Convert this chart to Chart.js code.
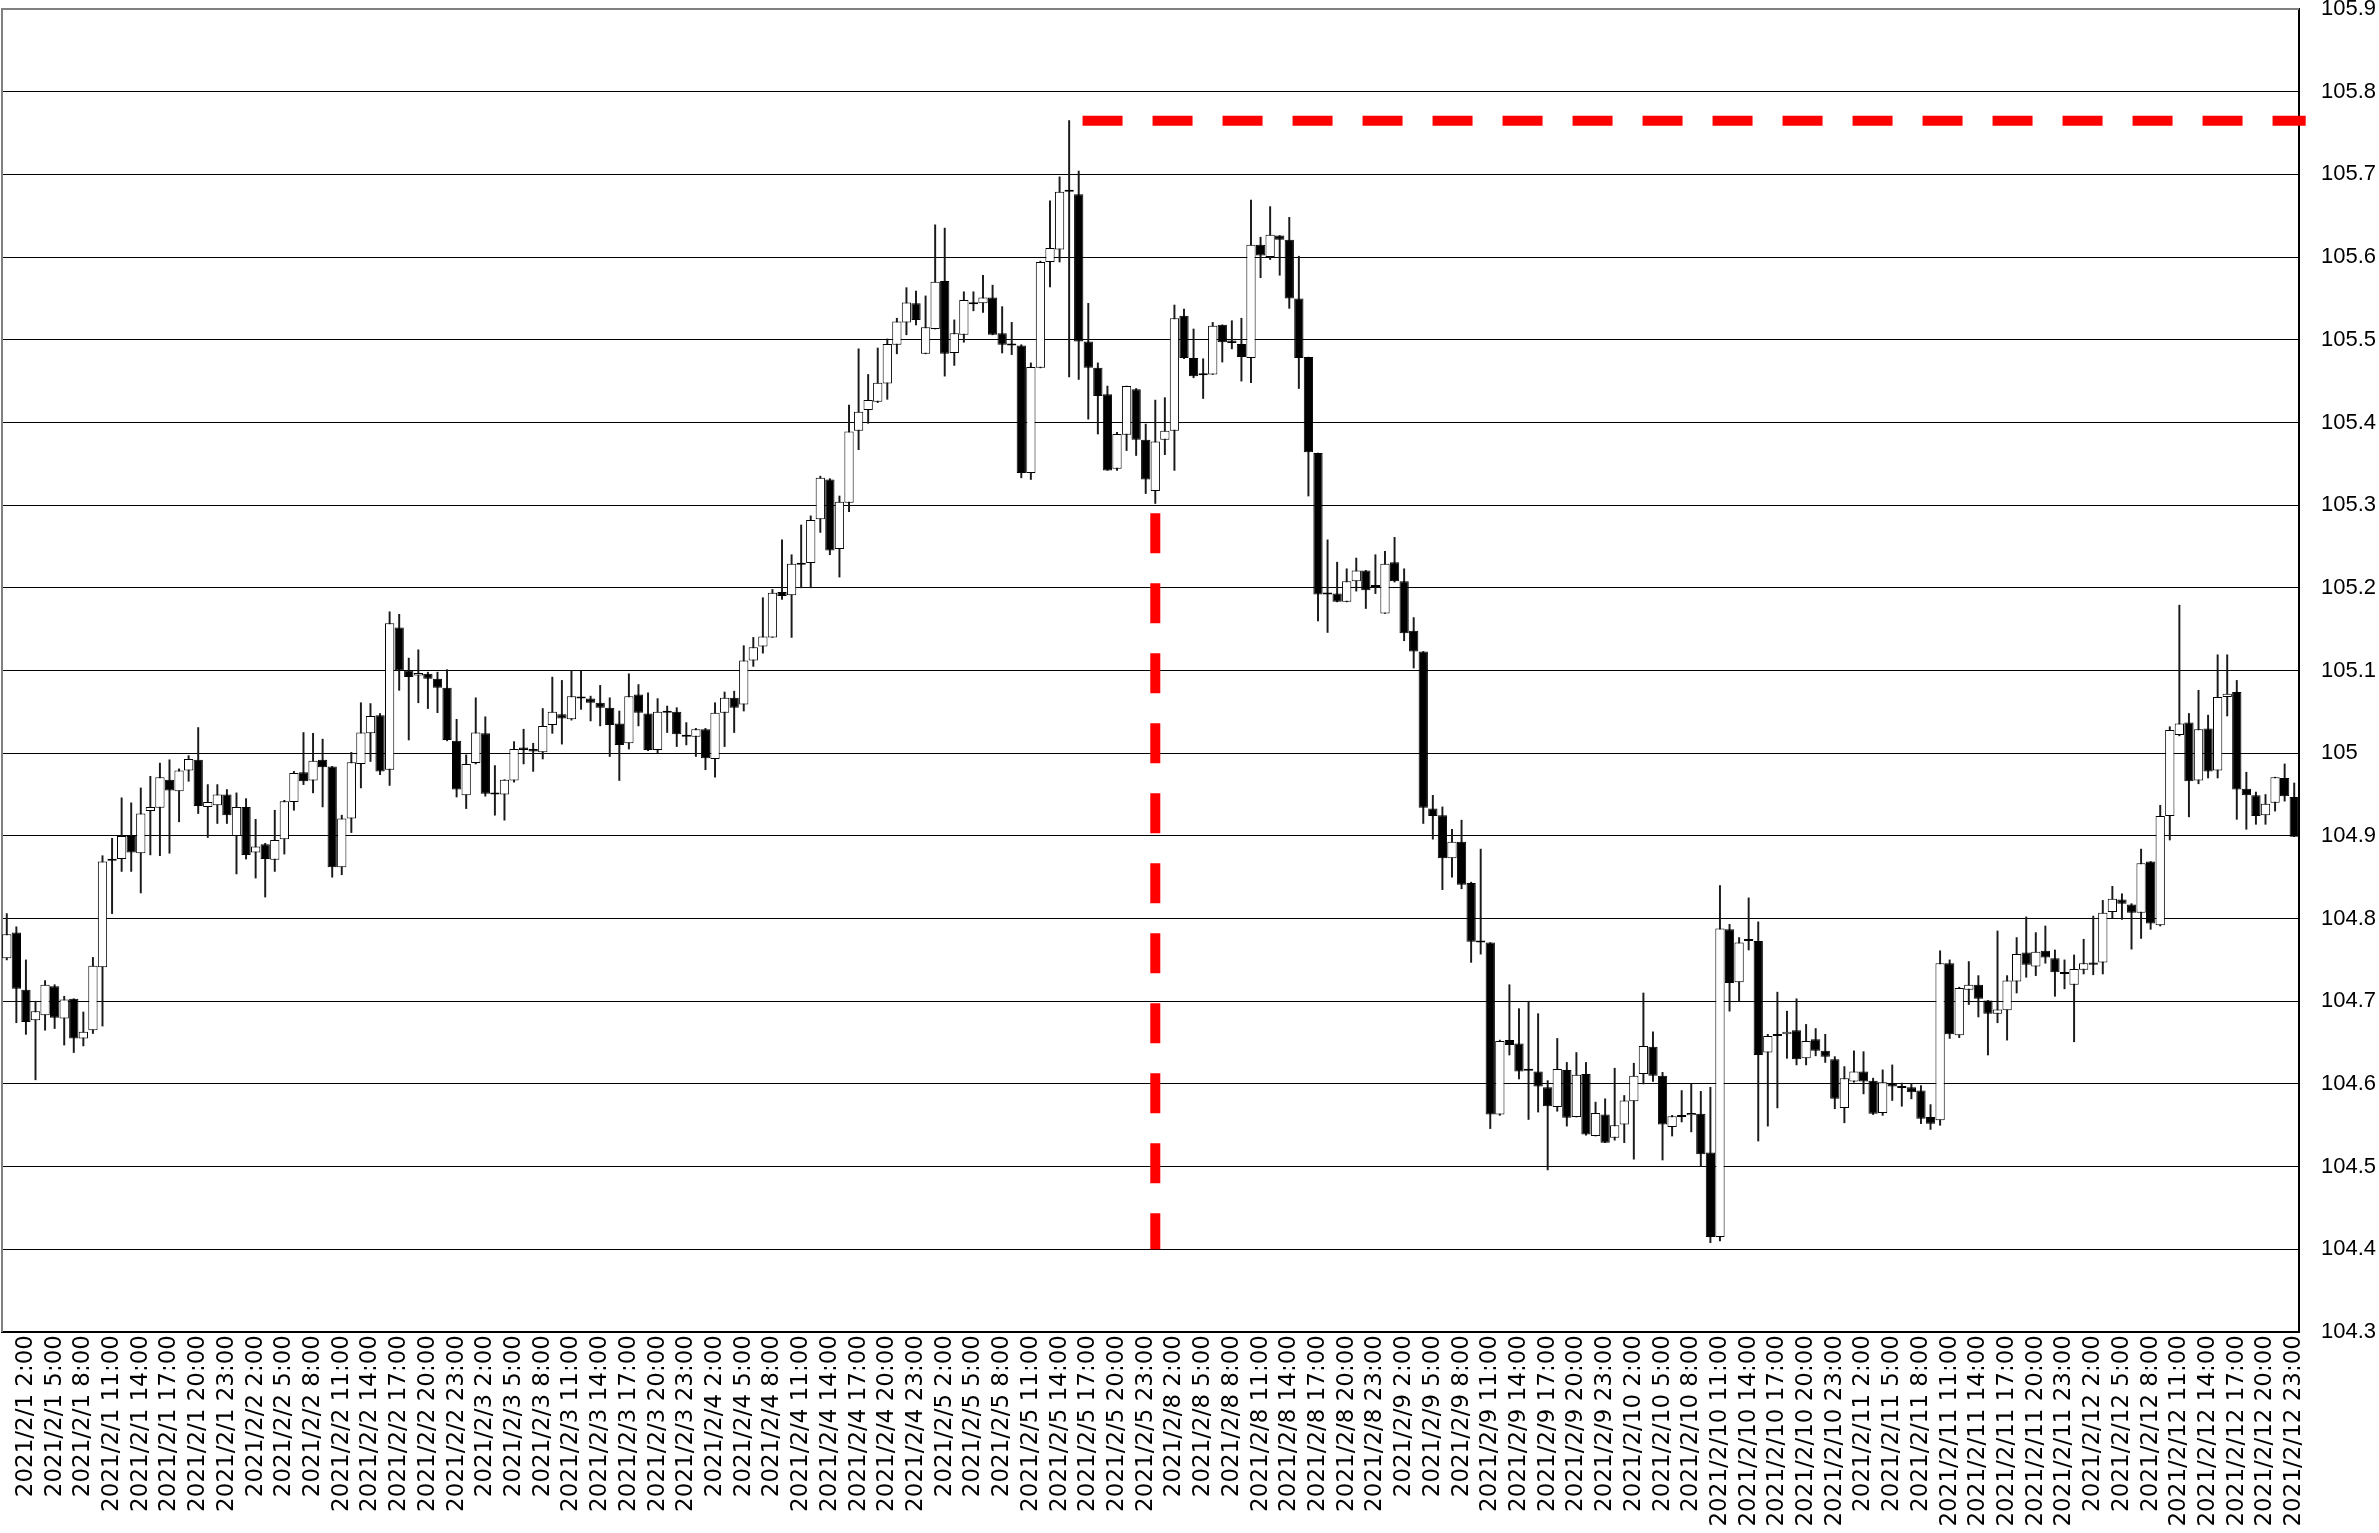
<!DOCTYPE html>
<html>
<head>
<meta charset="utf-8">
<script src="https://cdn.jsdelivr.net/npm/chart.js@4/dist/chart.umd.min.js"></script>
<style>
  html, body { margin: 0; padding: 0; background: #fff; }
  #wrap { width: 2379px; height: 1533px; }
</style>
</head>
<body>
<div id="wrap"><canvas id="candleChart" width="2379" height="1533"></canvas></div>
<script>
// trading days shown (weekend 2/6, 2/7 skipped), hourly candles
const days = ['2021/2/1', '2021/2/2', '2021/2/3', '2021/2/4', '2021/2/5',
              '2021/2/8', '2021/2/9', '2021/2/10', '2021/2/11', '2021/2/12'];
const hours = Array.from({ length: 24 }, (_, h) => h);
const labels = days.flatMap(d => hours.map(h => d + ' ' + h + ':00'));

const opens = [
  104.752, 104.783, 104.714, 104.677, 104.683, 104.718, 104.679, 104.703, 104.655, 104.665, 104.741, 104.870,
  104.872, 104.900, 104.879, 104.930, 104.934, 104.968, 104.954, 104.979, 104.992, 104.935, 104.937, 104.950,
  104.900, 104.935, 104.880, 104.890, 104.871, 104.896, 104.941, 104.977, 104.967, 104.992, 104.984, 104.862,
  104.921, 104.987, 105.024, 105.046, 104.980, 105.152, 105.100, 105.094, 105.096, 105.090, 105.079, 105.015,
  104.949, 104.988, 105.024, 104.951, 104.950, 104.967, 105.007, 105.005, 105.001, 105.034, 105.047, 105.041,
  105.068, 105.066, 105.061, 105.055, 105.036, 105.012, 105.071, 105.048, 105.004, 105.049, 105.050, 105.021,
  105.020, 105.029, 104.993, 105.049, 105.067, 105.059, 105.112, 105.129, 105.140, 105.195, 105.191, 105.228,
  105.230, 105.283, 105.331, 105.247, 105.303, 105.390, 105.415, 105.425, 105.447, 105.494, 105.521, 105.544,
  105.483, 105.513, 105.571, 105.484, 105.506, 105.544, 105.544, 105.551, 105.508, 105.494, 105.493, 105.339,
  105.466, 105.594, 105.609, 105.679, 105.676, 105.498, 105.466, 105.434, 105.344, 105.385, 105.440, 105.379,
  105.317, 105.379, 105.390, 105.529, 105.478, 105.457, 105.458, 105.518, 105.499, 105.495, 105.478, 105.615,
  105.600, 105.626, 105.621, 105.550, 105.479, 105.363, 105.193, 105.193, 105.183, 105.208, 105.221, 105.202,
  105.169, 105.231, 105.208, 105.148, 105.123, 104.933, 104.925, 104.873, 104.893, 104.843, 104.772, 104.771,
  104.563, 104.653, 104.649, 104.616, 104.615, 104.596, 104.572, 104.617, 104.560, 104.612, 104.537, 104.563,
  104.535, 104.551, 104.579, 104.612, 104.645, 104.610, 104.548, 104.560, 104.562, 104.564, 104.517, 104.415,
  104.787, 104.723, 104.773, 104.773, 104.638, 104.658, 104.660, 104.665, 104.631, 104.654, 104.640, 104.630,
  104.571, 104.603, 104.615, 104.604, 104.565, 104.601, 104.595, 104.596, 104.592, 104.560, 104.556, 104.746,
  104.659, 104.714, 104.720, 104.701, 104.685, 104.689, 104.724, 104.759, 104.742, 104.761, 104.752, 104.733,
  104.720, 104.738, 104.747, 104.747, 104.808, 104.823, 104.817, 104.807, 104.869, 104.792, 104.924, 105.022,
  105.037, 104.967, 105.030, 104.979, 105.068, 105.074, 104.957, 104.949, 104.925, 104.940, 104.970, 104.947
];
const highs = [
  104.806, 104.790, 104.750, 104.700, 104.725, 104.720, 104.706, 104.703, 104.687, 104.753, 104.876, 104.897,
  104.946, 104.940, 104.958, 104.972, 104.988, 104.992, 104.981, 104.997, 105.031, 104.962, 104.962, 104.956,
  104.952, 104.945, 104.920, 104.891, 104.931, 104.943, 104.978, 105.025, 105.024, 105.017, 104.984, 104.925,
  105.001, 105.061, 105.060, 105.048, 105.171, 105.168, 105.115, 105.125, 105.098, 105.098, 105.101, 105.041,
  104.998, 105.067, 105.044, 104.985, 104.968, 105.014, 105.029, 105.012, 105.054, 105.092, 105.088, 105.100,
  105.099, 105.069, 105.082, 105.067, 105.051, 105.096, 105.083, 105.073, 105.066, 105.057, 105.055, 105.037,
  105.030, 105.030, 105.061, 105.074, 105.075, 105.130, 105.140, 105.188, 105.198, 105.258, 105.240, 105.276,
  105.287, 105.335, 105.332, 105.311, 105.421, 105.489, 105.458, 105.490, 105.501, 105.526, 105.563, 105.559,
  105.553, 105.639, 105.635, 105.524, 105.558, 105.558, 105.578, 105.566, 105.540, 105.521, 105.494, 105.472,
  105.595, 105.668, 105.697, 105.765, 105.704, 105.544, 105.472, 105.444, 105.388, 105.444, 105.441, 105.398,
  105.427, 105.430, 105.542, 105.537, 105.513, 105.477, 105.521, 105.518, 105.523, 105.526, 105.669, 105.624,
  105.661, 105.626, 105.648, 105.601, 105.479, 105.363, 105.258, 105.231, 105.223, 105.236, 105.221, 105.240,
  105.244, 105.261, 105.223, 105.164, 105.123, 104.949, 104.935, 104.908, 104.919, 104.844, 104.884, 104.771,
  104.653, 104.720, 104.691, 104.700, 104.685, 104.604, 104.655, 104.626, 104.638, 104.626, 104.578, 104.582,
  104.619, 104.586, 104.625, 104.710, 104.663, 104.614, 104.562, 104.592, 104.600, 104.591, 104.596, 104.840,
  104.793, 104.777, 104.825, 104.796, 104.660, 104.711, 104.688, 104.703, 104.672, 104.667, 104.660, 104.633,
  104.621, 104.640, 104.639, 104.607, 104.617, 104.623, 104.601, 104.600, 104.598, 104.575, 104.761, 104.750,
  104.717, 104.748, 104.731, 104.701, 104.785, 104.731, 104.777, 104.802, 104.783, 104.791, 104.762, 104.750,
  104.756, 104.775, 104.803, 104.822, 104.839, 104.830, 104.818, 104.884, 104.869, 104.937, 105.032, 105.179,
  105.048, 105.076, 105.046, 105.119, 105.119, 105.088, 104.977, 104.953, 104.950, 104.971, 104.987, 104.964
];
const lows = [
  104.750, 104.674, 104.660, 104.605, 104.665, 104.667, 104.647, 104.638, 104.646, 104.661, 104.670, 104.806,
  104.857, 104.857, 104.831, 104.877, 104.876, 104.879, 104.917, 104.966, 104.927, 104.898, 104.915, 104.915,
  104.854, 104.872, 104.849, 104.826, 104.857, 104.878, 104.931, 104.962, 104.952, 104.935, 104.850, 104.853,
  104.904, 104.958, 104.990, 104.974, 104.961, 105.076, 105.016, 105.061, 105.054, 105.049, 105.015, 104.947,
  104.933, 104.987, 104.948, 104.925, 104.919, 104.965, 104.987, 104.978, 104.993, 105.024, 105.011, 105.040,
  105.053, 105.039, 105.033, 104.996, 104.967, 105.005, 105.033, 105.003, 105.000, 105.025, 105.008, 105.010,
  104.996, 104.980, 104.971, 105.008, 105.025, 105.051, 105.105, 105.121, 105.140, 105.186, 105.140, 105.200,
  105.200, 105.267, 105.240, 105.213, 105.292, 105.367, 105.399, 105.424, 105.428, 105.483, 105.506, 105.518,
  105.483, 105.513, 105.456, 105.469, 105.497, 105.535, 105.533, 105.506, 105.484, 105.482, 105.333, 105.331,
  105.466, 105.564, 105.594, 105.455, 105.452, 105.404, 105.386, 105.342, 105.342, 105.366, 105.360, 105.314,
  105.302, 105.361, 105.342, 105.477, 105.454, 105.429, 105.458, 105.473, 105.489, 105.450, 105.448, 105.575,
  105.597, 105.578, 105.538, 105.441, 105.311, 105.160, 105.146, 105.183, 105.183, 105.196, 105.175, 105.193,
  105.169, 105.207, 105.136, 105.103, 104.915, 104.896, 104.835, 104.850, 104.836, 104.747, 104.757, 104.546,
  104.562, 104.635, 104.606, 104.557, 104.566, 104.496, 104.567, 104.549, 104.560, 104.538, 104.537, 104.529,
  104.532, 104.529, 104.509, 104.600, 104.603, 104.508, 104.537, 104.554, 104.542, 104.500, 104.408, 104.410,
  104.688, 104.700, 104.762, 104.531, 104.549, 104.571, 104.631, 104.623, 104.623, 104.634, 104.626, 104.570,
  104.553, 104.602, 104.588, 104.563, 104.562, 104.580, 104.573, 104.582, 104.552, 104.545, 104.550, 104.655,
  104.656, 104.696, 104.681, 104.635, 104.674, 104.653, 104.710, 104.729, 104.731, 104.746, 104.706, 104.715,
  104.651, 104.733, 104.732, 104.733, 104.801, 104.799, 104.763, 104.776, 104.787, 104.791, 104.895, 105.021,
  104.923, 104.963, 104.970, 104.970, 105.045, 104.920, 104.908, 104.914, 104.914, 104.930, 104.942, 104.899
];
const closes = [
  104.781, 104.715, 104.675, 104.688, 104.720, 104.680, 104.702, 104.655, 104.663, 104.743, 104.869, 104.872,
  104.900, 104.880, 104.927, 104.935, 104.971, 104.955, 104.979, 104.993, 104.936, 104.941, 104.950, 104.925,
  104.935, 104.877, 104.887, 104.872, 104.895, 104.942, 104.976, 104.966, 104.991, 104.983, 104.862, 104.921,
  104.989, 105.025, 105.045, 104.978, 105.157, 105.100, 105.092, 105.097, 105.090, 105.079, 105.016, 104.956,
  104.987, 105.025, 104.951, 104.950, 104.968, 105.005, 105.004, 105.002, 105.033, 105.050, 105.042, 105.069,
  105.066, 105.061, 105.055, 105.034, 105.010, 105.069, 105.049, 105.004, 105.050, 105.051, 105.023, 105.020,
  105.029, 104.994, 105.049, 105.067, 105.055, 105.112, 105.128, 105.141, 105.194, 105.190, 105.229, 105.230,
  105.282, 105.333, 105.245, 105.304, 105.389, 105.413, 105.427, 105.448, 105.495, 105.522, 105.545, 105.524,
  105.515, 105.570, 105.483, 105.508, 105.548, 105.543, 105.551, 105.506, 105.494, 105.493, 105.339, 105.467,
  105.594, 105.611, 105.679, 105.680, 105.498, 105.466, 105.432, 105.342, 105.386, 105.444, 105.379, 105.331,
  105.377, 105.390, 105.526, 105.478, 105.456, 105.459, 105.517, 105.497, 105.496, 105.479, 105.615, 105.602,
  105.627, 105.621, 105.550, 105.478, 105.364, 105.192, 105.192, 105.183, 105.208, 105.221, 105.197, 105.201,
  105.229, 105.208, 105.145, 105.123, 104.934, 104.924, 104.873, 104.893, 104.841, 104.772, 104.771, 104.563,
  104.652, 104.647, 104.615, 104.617, 104.597, 104.573, 104.618, 104.559, 104.611, 104.539, 104.565, 104.529,
  104.550, 104.580, 104.610, 104.646, 104.610, 104.551, 104.561, 104.560, 104.565, 104.515, 104.415, 104.788,
  104.722, 104.771, 104.775, 104.635, 104.658, 104.660, 104.663, 104.630, 104.652, 104.640, 104.633, 104.582,
  104.607, 104.615, 104.603, 104.564, 104.602, 104.597, 104.595, 104.590, 104.558, 104.552, 104.746, 104.660,
  104.716, 104.720, 104.703, 104.685, 104.690, 104.725, 104.757, 104.744, 104.760, 104.753, 104.735, 104.733,
  104.739, 104.746, 104.744, 104.807, 104.824, 104.818, 104.807, 104.867, 104.794, 104.924, 105.028, 105.036,
  104.966, 105.029, 104.978, 105.068, 105.072, 104.956, 104.949, 104.924, 104.939, 104.971, 104.948, 104.899
];

// red dashed markers: weekly high level and the weekend gap at the Monday open
const peakLevel = 105.765;
const peakFrom = 112.4;
const peakTo = 240.2;
const gapIndex = 120;
const gapTop = 105.30;
const gapBottom = 104.40;

const bodies = opens.map((o, i) => [o, closes[i]]);
const wicks = lows.map((l, i) => [l, highs[i]]);
const isUp = i => closes[i] >= opens[i];

const plotFrame = {
  id: 'plotFrame',
  beforeDatasetsDraw(chart) {
    const { ctx, chartArea: a } = chart;
    ctx.save();
    ctx.strokeStyle = '#808080';
    ctx.lineWidth = 2;
    ctx.beginPath();
    ctx.moveTo(a.left, a.bottom);
    ctx.lineTo(a.left, a.top);
    ctx.lineTo(a.right, a.top);
    ctx.stroke();
    ctx.restore();
  }
};

const refLines = {
  id: 'refLines',
  afterDatasetsDraw(chart) {
    const { ctx } = chart;
    const x = chart.scales.x, y = chart.scales.y;
    ctx.save();
    ctx.strokeStyle = '#ff0000';
    ctx.lineWidth = 10;
    ctx.lineCap = 'butt';
    ctx.setLineDash([40, 30]);
    ctx.beginPath();
    ctx.moveTo(x.getPixelForValue(peakFrom), y.getPixelForValue(peakLevel));
    ctx.lineTo(x.getPixelForValue(peakTo), y.getPixelForValue(peakLevel));
    ctx.stroke();
    ctx.lineDashOffset = 62;
    ctx.beginPath();
    ctx.moveTo(x.getPixelForValue(gapIndex), y.getPixelForValue(gapTop));
    ctx.lineTo(x.getPixelForValue(gapIndex), y.getPixelForValue(gapBottom));
    ctx.stroke();
    ctx.restore();
  }
};

const ctx = document.getElementById('candleChart').getContext('2d');
const candleChart = new Chart(ctx, {
  type: 'bar',
  data: {
    labels: labels,
    datasets: [
      {
        label: 'body',
        data: bodies,
        backgroundColor: c => isUp(c.dataIndex) ? '#ffffff' : '#000000',
        borderColor: '#000000',
        borderWidth: 1,
        borderSkipped: false,
        barPercentage: 0.97,
        categoryPercentage: 1,
        minBarLength: 2,
        grouped: false,
        order: 0,
      },
      {
        label: 'wick',
        data: wicks,
        backgroundColor: '#1a1a1a',
        barThickness: 1.3,
        borderWidth: 0,
        grouped: false,
        order: 1,
      },
    ],
  },
  options: {
    responsive: false,
    animation: false,
    devicePixelRatio: 1,
    layout: { padding: { left: 2, right: 0, top: 9, bottom: 0 } },
    plugins: {
      legend: { display: false },
      tooltip: { enabled: false },
    },
    scales: {
      x: {
        grid: { display: false, drawTicks: false },
        border: { display: true, color: '#000000', width: 2 },
        ticks: {
          autoSkip: false,
          minRotation: 90,
          maxRotation: 90,
          padding: 3,
          color: '#000000',
          font: { family: 'DejaVu Sans', size: 23 },
          callback: (v, i) => (i % 3 === 2 ? labels[i] : ''),
        },
        afterFit: s => { s.height = 201; s.paddingLeft = 0; s.paddingRight = 0; },
      },
      y: {
        position: 'right',
        min: 104.3,
        max: 105.9,
        ticks: {
          stepSize: 0.1,
          padding: 22,
          color: '#000000',
          font: { family: 'Liberation Sans', size: 22 },
          callback: v => String(Number(v.toFixed(1))),
        },
        grid: { color: '#000000', lineWidth: 1, drawTicks: false },
        border: { display: true, color: '#000000', width: 2 },
        afterFit: s => { s.width = 80; s.paddingTop = 0; s.paddingBottom = 0; },
      },
    },
  },
  plugins: [plotFrame, refLines],
});
</script>
</body>
</html>
